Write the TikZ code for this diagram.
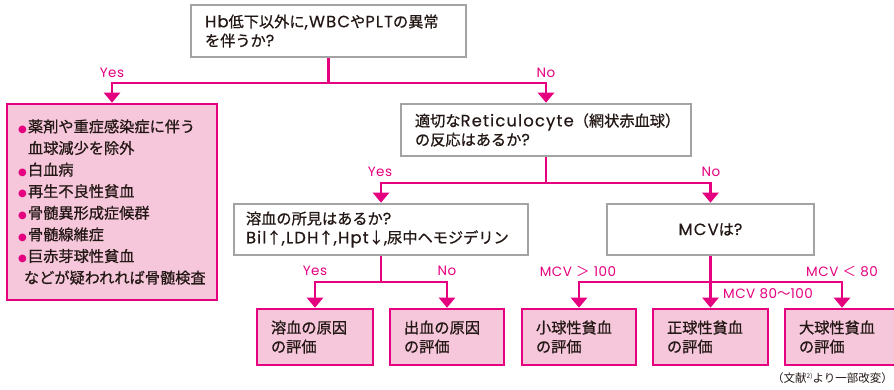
\documentclass[tikz,border=0pt]{standalone}
\usepackage{fontspec}
\setmainfont{Noto Sans CJK JP}[FakeBold=0.7]
\newfontfamily\latfont{Poppins}[Scale=1.08,LetterSpace=7,FakeBold=0.3]
\newfontfamily\labfont{Poppins}[LetterSpace=4]
\newfontfamily\cjklab{Noto Sans CJK JP}
\newfontfamily\dejavu{DejaVu Sans}
\usetikzlibrary{arrows.meta}
\definecolor{mag}{HTML}{E4007F}
\definecolor{pinkfill}{HTML}{F6C6DA}
\definecolor{gborder}{HTML}{A3A3A3}
\definecolor{txt}{HTML}{231815}
\newcommand{\lat}[1]{{\latfont #1}}
\newcommand{\bul}{\makebox[7pt][l]{\hspace*{-3pt}\textcolor{mag}{\dejavu\fontsize{10}{10}\selectfont ●}}}
\begin{document}
\begin{tikzpicture}[x=1pt,y=-1pt,
  gbox/.style={draw=gborder,line width=2.6pt,fill=white,inner xsep=14pt,inner ysep=0pt,align=left,text=txt,font=\fontsize{15.2}{19}\selectfont},
  pbox/.style={draw=mag,line width=2.6pt,fill=pinkfill,inner xsep=14pt,inner ysep=0pt,align=left,text=txt,font=\fontsize{15.2}{19}\selectfont},
  conn/.style={draw=mag,line width=2.6pt},
  arr/.style={conn,-{Triangle[width=16pt,length=10pt]}},
  lab/.style={text=mag,font=\labfont\fontsize{13.5}{15}\selectfont,inner sep=0pt},
]
\path[use as bounding box] (0,0) rectangle (894,389);
\clip (0,0) rectangle (894,389);

% boxes
\node[gbox,text width=247pt,minimum height=52pt] (top) at (328.5,31) {\lat{Hb}低下以外に\lat{,WBC}や\lat{PLT}の異常\\を伴うか\lat{?}};
\node[pbox,text width=182pt,minimum height=196pt,font=\fontsize{15.2}{21.6}\selectfont] (left) at (112,202)
 {\bul 薬剤や重症感染症に伴う\\\hspace*{7pt}血球減少を除外\\\bul 白血病\\\bul 再生不良性貧血\\\bul 骨髄異形成症候群\\\bul 骨髄線維症\\\bul 巨赤芽球性貧血\\\hspace*{3pt}などが疑われれば骨髄検査};
\node[gbox,text width=262pt,minimum height=52pt,inner xsep=14pt] (ret) at (546,130) {適切な\lat{Reticulocyte}（網状赤血球）\\の反応はあるか\lat{?}};
\node[gbox,text width=270pt,minimum height=51pt,inner xsep=12pt] (hem) at (381,229.5) {溶血の所見はあるか\lat{?}\\\lat{Bil}↑\lat{,LDH}↑\lat{,Hpt}↓\lat{,}尿中ヘモジデリン};
\node[gbox,text width=179pt,minimum height=51pt,align=center] (mcv) at (710.5,229.5) {\lat{MCV}は\lat{?}};
\node[pbox,text width=88pt,minimum height=56pt] (b1) at (315,337) {溶血の原因\\の評価};
\node[pbox,text width=86pt,minimum height=56pt] (b2) at (447,337) {出血の原因\\の評価};
\node[pbox,text width=86pt,minimum height=56pt] (b3) at (579,337) {小球性貧血\\の評価};
\node[pbox,text width=87pt,minimum height=56pt] (b4) at (710.5,337) {正球性貧血\\の評価};
\node[pbox,text width=86pt,minimum height=56pt] (b5) at (842,337) {大球性貧血\\の評価};

% junctions
\coordinate (j1) at (328.5,83);
\coordinate (j2) at (546,183);
\coordinate (j3) at (381,282);
\coordinate (j4) at (710.5,282);

\draw[conn] (top.south) -- (j1);
\draw[arr] (j1) -| (left.north);
\draw[arr] (j1) -| (ret.north);
\draw[conn] (ret.south) -- (j2);
\draw[arr] (j2) -| (hem.north);
\draw[arr] (j2) -| (mcv.north);
\draw[conn] (hem.south) -- (j3);
\draw[arr] (j3) -| (b1.north);
\draw[arr] (j3) -| (b2.north);
\draw[arr] (mcv.south) -- (b4.north);
\draw[arr] (j4) -| (b3.north);
\draw[arr] (j4) -| (b5.north);

% labels
\node[lab] (l1) at (112,73) {Yes};
\node[lab] (l2) at (546,73) {No};
\node[lab] (l3) at (380,172) {Yes};
\node[lab] (l4) at (711,172) {No};
\node[lab] (l5) at (315,271) {Yes};
\node[lab] (l6) at (447,271) {No};
\node[lab] (l7) at (578,271) {MCV {\cjklab ＞} 100};
\node[lab] (l8) at (842,271) {MCV {\cjklab ＜} 80};
\node[lab] (l9) at (768,294) {MCV 80{\cjklab ～}100};

\node[text=txt,font=\cjklab\fontsize{11.5}{13}\selectfont,inner sep=0pt,anchor=east] (fn) at (893,378) {（文献\raisebox{4pt}{\fontsize{6.5}{7}\selectfont 2)}より一部改変）};
\end{tikzpicture}
\end{document}
